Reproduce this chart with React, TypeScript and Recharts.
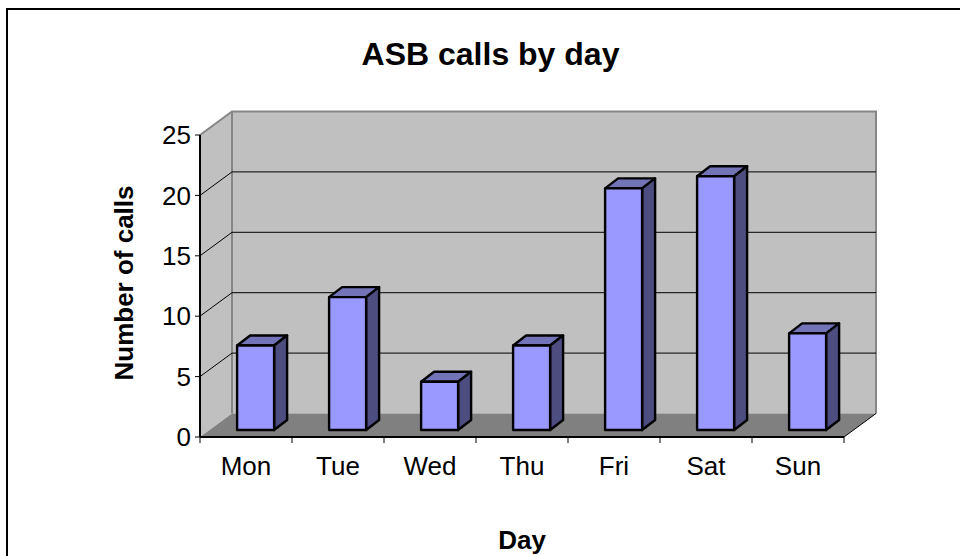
import { BarChart, Bar, XAxis, YAxis, CartesianGrid, Label, usePlotArea } from 'recharts'

const days = ['Mon', 'Tue', 'Wed', 'Thu', 'Fri', 'Sat', 'Sun']
const calls = [7, 11, 4, 7, 20, 21, 8]
const yTicks = [0, 5, 10, 15, 20, 25]

const data = days.map((day, i) => ({ day, calls: calls[i] }))

const FONT = '"Liberation Sans", Arial, sans-serif'
// fake 3d: how far the back wall sits behind the axes
const WALL_DX = 32
const WALL_DY = -23.5
// bars stand partway into the floor
const BAR_DX = 9.5
const BAR_DY = -7
const BAR_DEPTH_X = 13
const BAR_DEPTH_Y = -10

function Walls() {
  const plot = usePlotArea()
  if (!plot) return null
  const { x, y, width, height } = plot
  const r = x + width
  const b = y + height
  const dx = WALL_DX
  const dy = WALL_DY
  return (
    <g>
      <polygon points={`${x + dx},${y + dy} ${r + dx},${y + dy} ${r + dx},${b + dy} ${x + dx},${b + dy}`} fill="#c0c0c0" />
      <polygon points={`${x},${y} ${x + dx},${y + dy} ${x + dx},${b + dy} ${x},${b}`} fill="#c0c0c0" />
      <polygon points={`${x},${b} ${x + dx},${b + dy} ${r + dx},${b + dy} ${r},${b}`} fill="#808080" />
      <polyline
        points={`${x},${y} ${x + dx},${y + dy} ${r + dx},${y + dy} ${r + dx},${b + dy}`}
        fill="none" stroke="#868686" strokeWidth={2}
      />
      <line x1={x + dx} y1={y + dy} x2={x + dx} y2={b + dy} stroke="#868686" strokeWidth={2} />
      <line x1={r} y1={b} x2={r + dx} y2={b + dy} stroke="#000" strokeWidth={1} />
    </g>
  )
}

function WallLine(props: any) {
  const { x1, x2, y1, index } = props
  // no line on the top edge or on the floor
  if (y1 === undefined || y1 <= 136 || y1 >= 436) return <g key={index} />
  return (
    <polyline
      key={index}
      points={`${x1},${y1} ${x1 + WALL_DX},${y1 + WALL_DY} ${x2 + WALL_DX},${y1 + WALL_DY}`}
      fill="none" stroke="#000" strokeWidth={1}
    />
  )
}

function Bar3D(props: any) {
  const { x, y, width, height } = props
  const l = x + BAR_DX
  const r = l + width
  const t = y + BAR_DY
  const b = t + height
  const dx = BAR_DEPTH_X
  const dy = BAR_DEPTH_Y
  return (
    <g stroke="#000" strokeWidth={2.4} strokeLinejoin="round">
      <polygon points={`${l},${t} ${l + dx},${t + dy} ${r + dx},${t + dy} ${r},${t}`} fill="#7373b8" />
      <polygon points={`${r},${t} ${r + dx},${t + dy} ${r + dx},${b + dy} ${r},${b}`} fill="#4d4d80" />
      <rect x={l} y={t} width={width} height={height} fill="#9999ff" />
    </g>
  )
}

function DayTick(props: any) {
  const { x, y, payload, index } = props
  const band = 92
  const top = y - 8
  return (
    <g>
      <line x1={x - band / 2} y1={top} x2={x - band / 2} y2={top + 6} stroke="#000" />
      {index === days.length - 1 && <line x1={x + band / 2} y1={top} x2={x + band / 2} y2={top + 6} stroke="#000" />}
      <text x={x} y={top + 38} textAnchor="middle" fontSize={26} fontFamily={FONT} fill="#000">{payload.value}</text>
    </g>
  )
}

export default function App() {
  return (
    <div style={{ position: 'absolute', left: 0, top: 0, width: 960, height: 556, background: '#fff', overflow: 'hidden' }}>
      <div style={{ position: 'absolute', left: 6, top: 8, width: 1000, height: 700, borderLeft: '2px solid #000', borderTop: '2px solid #000' }} />
      <div style={{ position: 'absolute', left: 0, right: 0, top: 36, paddingLeft: 21, textAlign: 'center', fontFamily: FONT, fontWeight: 'bold', fontSize: 32, color: '#000' }}>
        ASB calls by day
      </div>
      <div style={{ position: 'absolute', left: 0, top: 0 }}>
        <BarChart width={960} height={556} data={data} margin={{ top: 135, right: 116, bottom: 1, left: 120 }} barCategoryGap="30%">
          <Walls />
          <CartesianGrid vertical={false} horizontal={(p: any) => <WallLine {...p} />} zIndex={1} />
          <XAxis
            dataKey="day"
            axisLine={{ stroke: '#000', strokeWidth: 2 }}
            tickLine={false}
            tick={<DayTick />}
            interval={0}
            height={118}
          >
            <Label value="Day" position="insideBottom" offset={6} fontSize={26} fontWeight="bold" fontFamily={FONT} fill="#000" />
          </XAxis>
          <YAxis
            domain={[0, 25]}
            ticks={yTicks}
            width={80}
            axisLine={{ stroke: '#000', strokeWidth: 2 }}
            tickLine={{ stroke: '#000' }}
            tickSize={5}
            tickMargin={4}
            tick={{ fontSize: 26, fontFamily: FONT, fill: '#000' }}
          >
            <Label value="Number of calls" angle={-90} position="insideLeft" offset={4} dy={-3} fontSize={26} fontWeight="bold" fontFamily={FONT} fill="#000" style={{ textAnchor: 'middle' }} />
          </YAxis>
          <Bar dataKey="calls" isAnimationActive={false} shape={<Bar3D />} />
        </BarChart>
      </div>
    </div>
  )
}
